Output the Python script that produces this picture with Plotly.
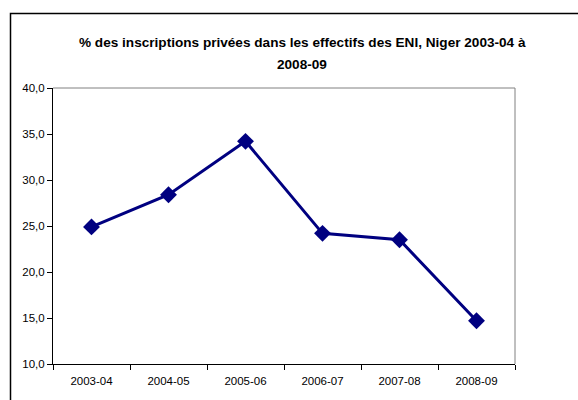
import plotly.graph_objects as go

years = ["2003-04", "2004-05", "2005-06", "2006-07", "2007-08", "2008-09"]
pct_prive = [24.9, 28.4, 34.2, 24.2, 23.5, 14.7]
y_ticks = [10, 15, 20, 25, 30, 35, 40]
title_lines = ["% des inscriptions privées dans les effectifs des ENI, Niger 2003-04 à", "2008-09"]

W, H = 578, 400
L, R, T, B = 53, 515, 88, 364
pw, ph = R - L, B - T

def px_x(x):
    return (x - L) / pw

def px_y(y):
    return (B - y) / ph

FONT = "Liberation Sans, Arial, sans-serif"

fig = go.Figure()
fig.add_trace(go.Scatter(
    x=years, y=pct_prive, mode="lines+markers",
    line=dict(color="#000080", width=3),
    marker=dict(symbol="diamond", size=13, color="#000080"),
    showlegend=False, cliponaxis=False,
))

fig.update_layout(
    width=W, height=H,
    margin=dict(l=L, r=W - R, t=T, b=H - B, pad=0),
    paper_bgcolor="white", plot_bgcolor="white",
    separators=", ",
    font=dict(family=FONT, size=11.5, color="#000000"),
    xaxis=dict(
        type="category", range=[-0.5, 5.5], showgrid=False,
        showline=True, linecolor="#000000", linewidth=1,
        ticks="outside", ticklen=5, tickcolor="#000000", tickson="boundaries",
        ticklabelstandoff=6,
        tickfont=dict(family=FONT, size=11.5, color="#000000"),
        zeroline=False, fixedrange=True,
    ),
    yaxis=dict(
        range=[10, 40], tickvals=y_ticks, tickformat=".1f", showgrid=False,
        showline=True, linecolor="#000000", linewidth=1,
        ticks="outside", ticklen=5, tickcolor="#000000",
        tickfont=dict(family=FONT, size=11.5, color="#000000"),
        zeroline=False, fixedrange=True,
    ),
    shapes=[
        dict(type="line", xref="paper", yref="paper", x0=0, x1=1, y0=1, y1=1,
             line=dict(color="#808080", width=1)),
        dict(type="line", xref="paper", yref="paper", x0=1, x1=1, y0=0, y1=1,
             line=dict(color="#808080", width=1)),
        dict(type="rect", xref="paper", yref="paper",
             x0=px_x(10.5), x1=px_x(600), y0=px_y(420), y1=px_y(13.5),
             line=dict(color="#000000", width=1.5), fillcolor="rgba(0,0,0,0)", layer="below"),
    ],
    annotations=[
        dict(text="<b>" + title_lines[0] + "</b>",
             xref="paper", yref="paper", x=px_x(302), y=px_y(43), xanchor="center", yanchor="middle",
             showarrow=False, font=dict(family=FONT, size=13.6, color="#000000")),
        dict(text="<b>" + title_lines[1] + "</b>",
             xref="paper", yref="paper", x=px_x(302), y=px_y(64), xanchor="center", yanchor="middle",
             showarrow=False, font=dict(family=FONT, size=13.6, color="#000000")),
    ],
)

fig.write_html("out.html", config={"displayModeBar": False},
               post_script="document.body.style.margin='0';document.body.style.overflow='hidden';")
